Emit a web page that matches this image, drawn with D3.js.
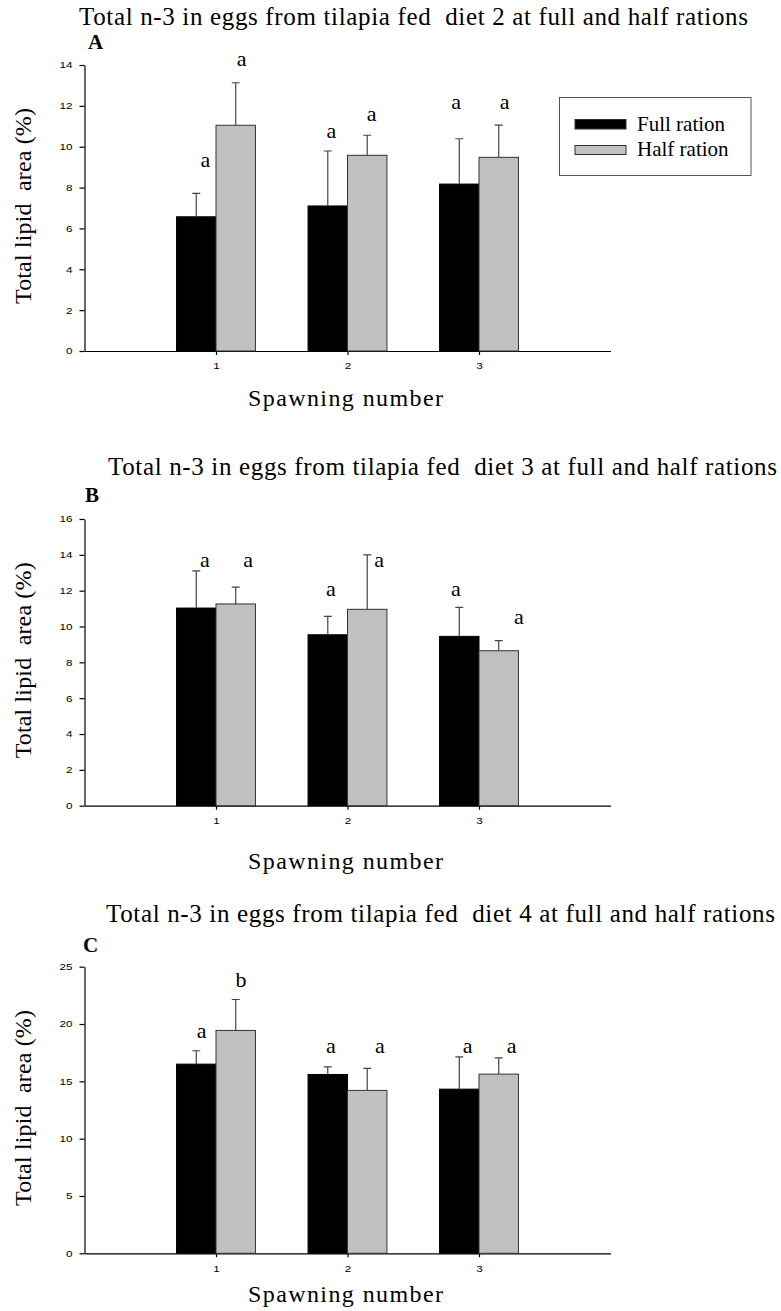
<!DOCTYPE html>
<html>
<head>
<meta charset="utf-8">
<script src="https://cdn.jsdelivr.net/npm/d3@7"></script>
<style>
body { margin: 0; background: #fff; }
svg { display: block; }
text.serif { font-family: 'Liberation Serif', 'Times New Roman', serif; white-space: pre; }
.axis text { font-family: 'Liberation Sans', Arial, sans-serif; font-size: 9px; fill: #000; }
.axis path, .axis line { stroke: #000; stroke-width: 1.2; }
</style>
</head>
<body>
<div id="chart"></div>
<script>

// data
var spawning = [1, 2, 3]
var seriesNames = ['Full ration', 'Half ration']
var panelLetters = ['A', 'B', 'C']
var titles = [
	'Total n-3 in eggs from tilapia fed  diet 2 at full and half rations',
	'Total n-3 in eggs from tilapia fed  diet 3 at full and half rations',
	'Total n-3 in eggs from tilapia fed  diet 4 at full and half rations'
]
var yMax = [14, 16, 25]
var yStep = [2, 2, 5]

var fullA = [6.57, 7.10, 8.17]
var fullErrA = [1.15, 2.69, 2.22]
var halfA = [11.05, 9.58, 9.48]
var halfErrA = [2.08, 0.98, 1.58]

var fullB = [11.03, 9.54, 9.45]
var fullErrB = [2.07, 1.03, 1.62]
var halfB = [11.26, 10.96, 8.65]
var halfErrB = [0.94, 3.04, 0.56]

var fullC = [16.5, 15.6, 14.32]
var fullErrC = [1.17, 0.67, 2.82]
var halfC = [19.44, 14.21, 15.63]
var halfErrC = [2.70, 1.92, 1.42]

// significance letters and the level (data units) where each sits
var fullSigA = ['a', 'a', 'a'], fullSigLevelA = [9.02, 10.43, 11.85], fullSigShiftA = [0.07, 0.027, -0.023]
var halfSigA = ['a', 'a', 'a'], halfSigLevelA = [13.95, 11.26, 11.85], halfSigShiftA = [0.045, 0.034, 0.045]
var fullSigB = ['a', 'a', 'a'], fullSigLevelB = [13.34, 11.72, 11.72], fullSigShiftB = [0.066, 0.024, -0.025]
var halfSigB = ['a', 'a', 'a'], halfSigLevelB = [13.34, 13.34, 10.14], halfSigShiftB = [0.094, 0.09, 0.154]
var fullSigC = ['a', 'a', 'a'], fullSigLevelC = [18.8, 17.44, 17.44], fullSigShiftC = [0.041, 0.024, 0.064]
var halfSigC = ['b', 'a', 'a'], halfSigLevelC = [23.24, 17.44, 17.44], halfSigShiftC = [0.04, 0.097, 0.099]

var panels = [
	{ full: fullA, fullErr: fullErrA, half: halfA, halfErr: halfErrA,
		fullSig: fullSigA, fullLevel: fullSigLevelA, fullShift: fullSigShiftA,
		halfSig: halfSigA, halfLevel: halfSigLevelA, halfShift: halfSigShiftA,
		top: 65, bottom: 351, titleY: 25, titleX: 79, letterX: 88, letterY: 49, xTitleY: 406, legend: true },
	{ full: fullB, fullErr: fullErrB, half: halfB, halfErr: halfErrB,
		fullSig: fullSigB, fullLevel: fullSigLevelB, fullShift: fullSigShiftB,
		halfSig: halfSigB, halfLevel: halfSigLevelB, halfShift: halfSigShiftB,
		top: 519, bottom: 805.7, titleY: 475, titleX: 108, letterX: 85, letterY: 501.7, xTitleY: 869, legend: false },
	{ full: fullC, fullErr: fullErrC, half: halfC, halfErr: halfErrC,
		fullSig: fullSigC, fullLevel: fullSigLevelC, fullShift: fullSigShiftC,
		halfSig: halfSigC, halfLevel: halfSigLevelC, halfShift: halfSigShiftC,
		top: 966.7, bottom: 1253.3, titleY: 921.7, titleX: 106, letterX: 83, letterY: 951.7, xTitleY: 1301.7, legend: false }
]

var width = 781, height = 1311
var barWidth = 0.3
var colors = ['#000000', '#c0c0c0']
var tickScale = 1.3

var svg = d3.select('#chart').append('svg')
	.attr('width', width)
	.attr('height', height)

var xScale = d3.scaleLinear()
	.domain([0, 4])
	.range([84.5, 610.5])

// widen a text to a given length with letter-spacing (keeps the font as is)
function spreadTo(sel, target) {
	var node = sel.node()
	var natural = node.getComputedTextLength()
	var n = sel.text().length
	if (natural < target && n > 1) sel.style('letter-spacing', ((target - natural) / (n - 1)) + 'px')
	return sel
}

panels.forEach(function(p, pi) {
	var yScale = d3.scaleLinear()
		.domain([0, yMax[pi]])
		.range([p.bottom, p.top])

	var g = svg.append('g')

	// title + panel letter
	var t = g.append('text')
		.attr('class', 'serif')
		.attr('x', p.titleX)
		.attr('y', p.titleY)
		.style('font-size', '25px')
		.text(titles[pi])
	spreadTo(t, 669)
	g.append('text')
		.attr('class', 'serif')
		.attr('x', p.letterX)
		.attr('y', p.letterY)
		.style('font-size', '21px')
		.style('font-weight', 'bold')
		.text(panelLetters[pi])

	// axes
	var yAxis = d3.axisLeft(yScale)
		.tickValues(d3.range(0, yMax[pi] + 0.001, yStep[pi]))
		.tickSizeInner(5)
		.tickSizeOuter(0)
		.tickPadding(7)
	var yg = g.append('g')
		.attr('class', 'axis')
		.attr('transform', 'translate(' + xScale.range()[0] + ',0)')
		.call(yAxis)
	yg.selectAll('text')
		.attr('transform', 'scale(' + tickScale + ',1)')
		.attr('x', -12 / tickScale)

	var xAxis = d3.axisBottom(xScale)
		.tickValues(spawning)
		.tickFormat(d3.format('d'))
		.tickSizeInner(4)
		.tickSizeOuter(0)
		.tickPadding(8)
	var xg = g.append('g')
		.attr('class', 'axis')
		.attr('transform', 'translate(0,' + p.bottom + ')')
		.call(xAxis)
	xg.selectAll('text')
		.attr('transform', 'scale(' + tickScale + ',1)')

	// axis titles
	var ymid = (p.top + p.bottom) / 2 - 2
	var yl = g.append('text')
		.attr('class', 'serif')
		.attr('x', 0)
		.attr('y', 0)
		.style('font-size', '24px')
		.text('Total lipid  area (%)')
	spreadTo(yl, 196)
	yl.attr('transform', 'translate(31,' + (ymid + 98) + ') rotate(-90)')

	var xl = g.append('text')
		.attr('class', 'serif')
		.attr('x', 248)
		.attr('y', p.xTitleY)
		.style('font-size', '24px')
		.text('Spawning number')
	spreadTo(xl, 195)

	// bars, error bars, letters
	var series = [
		{ values: p.full, err: p.fullErr, sig: p.fullSig, level: p.fullLevel, shift: p.fullShift, offset: -barWidth },
		{ values: p.half, err: p.halfErr, sig: p.halfSig, level: p.halfLevel, shift: p.halfShift, offset: 0 }
	]
	series.forEach(function(s, si) {
		var bars = g.append('g')
		bars.selectAll('rect').data(spawning)
			.enter().append('rect')
				.attr('x', function(d) { return xScale(d + s.offset) })
				.attr('width', function(d) { return xScale(d + s.offset + barWidth) - xScale(d + s.offset) })
				.attr('y', function(d, i) { return yScale(s.values[i]) })
				.attr('height', function(d, i) { return p.bottom - yScale(s.values[i]) })
				.attr('fill', colors[si])
				.attr('stroke', si === 0 ? '#000' : '#333')
				.attr('stroke-width', 1)
		bars.selectAll('path').data(spawning)
			.enter().append('path')
				.attr('fill', 'none')
				.attr('stroke', '#444')
				.attr('stroke-width', 1.2)
				.attr('d', function(d, i) {
					var xc = xScale(d + s.offset + barWidth / 2)
					var ylow = yScale(s.values[i])
					var yhigh = yScale(s.values[i] + s.err[i])
					return 'M' + xc + ',' + ylow + ' V' + yhigh + ' M' + (xc - 4) + ',' + yhigh + ' h8'
				})
		bars.selectAll('text').data(spawning)
			.enter().append('text')
				.attr('class', 'serif')
				.attr('text-anchor', 'middle')
				.attr('x', function(d, i) { return xScale(d + s.offset + barWidth / 2 + s.shift[i]) })
				.attr('y', function(d, i) { return yScale(s.level[i]) })
				.style('font-size', '22px')
				.text(function(d, i) { return s.sig[i] })
	})

	// legend (first panel only)
	if (p.legend) {
		var lg = g.append('g')
		lg.append('rect')
			.attr('x', 559.5)
			.attr('y', 97.5)
			.attr('width', 191.5)
			.attr('height', 78)
			.attr('fill', '#fff')
			.attr('stroke', '#555')
			.attr('stroke-width', 1)
		seriesNames.forEach(function(name, i) {
			lg.append('rect')
				.attr('x', 575)
				.attr('y', i === 0 ? 119.5 : 145.5)
				.attr('width', 51)
				.attr('height', i === 0 ? 9.5 : 9)
				.attr('fill', colors[i])
				.attr('stroke', '#333')
				.attr('stroke-width', 1)
			lg.append('text')
				.attr('class', 'serif')
				.attr('x', 637)
				.attr('y', i === 0 ? 131 : 155.5)
				.style('font-size', '21px')
				.text(name)
		})
	}
})
</script>
</body>
</html>
